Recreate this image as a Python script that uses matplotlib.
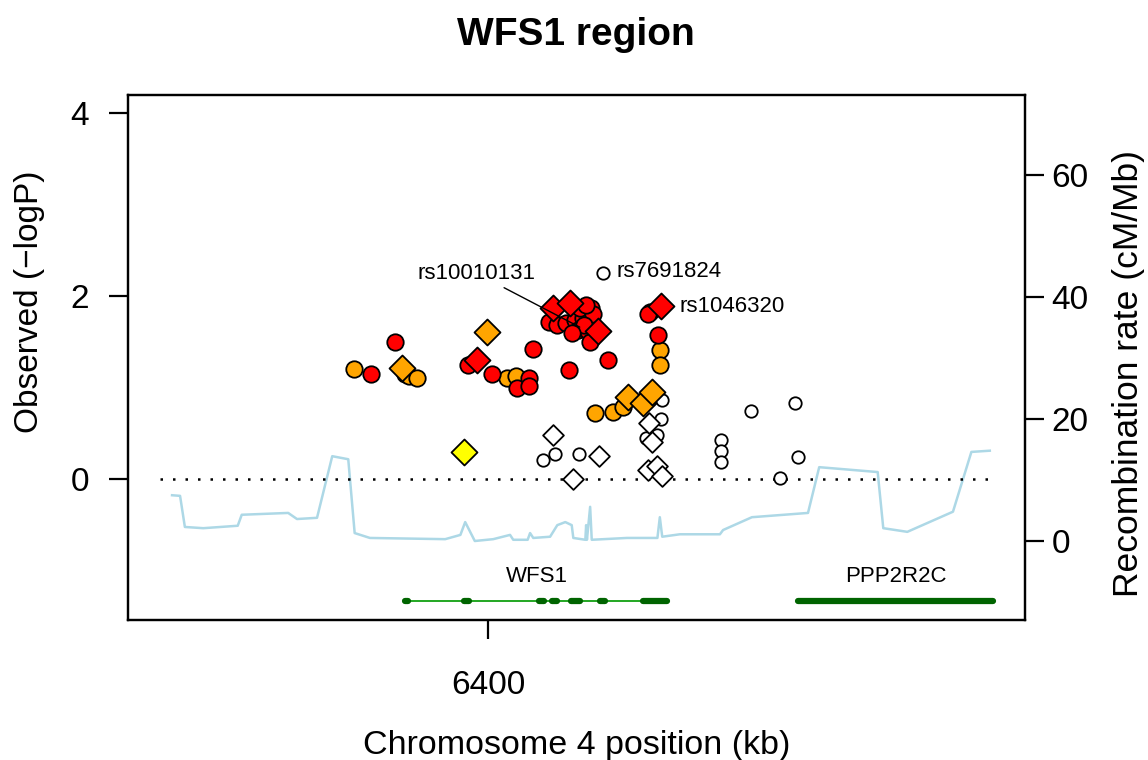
import matplotlib
matplotlib.use("Agg")
import matplotlib.pyplot as plt

plt.rcParams["font.family"] = ["Liberation Sans", "DejaVu Sans"]

# SNP results: position (kb), -log10 P, LD class, marker shape
snp_pos = [6383.2, 6385.3, 6388.3, 6389.2, 6389.6, 6390.1, 6391.1, 6397.0, 6397.5, 6398.6,
           6399.8, 6400.4, 6402.3, 6403.4, 6403.6, 6405.1, 6405.1, 6405.6, 6406.8, 6408.1,
           6408.3, 6410.1, 6410.6, 6411.3, 6413.8, 6414.3, 6414.9, 6413.3, 6415.6, 6416.8,
           6417.4, 6419.3, 6420.4, 6420.2, 6419.9, 6421.6, 6421.2, 6421.4, 6421.4, 6421.7,
           6420.1, 6421.6, 6419.7, 6421.1, 6420.4, 6419.9, 6421.1, 6421.7, 6429.0, 6429.0,
           6429.0, 6432.8, 6438.3, 6438.7, 6436.4, 6408.1, 6410.2, 6413.7, 6407.6, 6408.6,
           6409.7, 6410.8, 6411.8, 6411.4, 6412.8, 6413.1, 6411.2, 6412.4, 6412.7, 6411.9,
           6410.4, 6412.2]
snp_logp = [1.20, 1.15, 1.50, 1.21, 1.15, 1.13, 1.10, 0.30, 1.25, 1.30,
            1.61, 1.15, 1.10, 1.13, 0.99, 1.10, 1.02, 1.42, 0.21, 0.48,
            0.27, 1.19, 0.00, 0.27, 0.25, 2.25, 1.30, 0.72, 0.73, 0.79,
            0.90, 0.83, 0.95, 1.83, 1.80, 1.89, 1.57, 1.41, 1.25, 0.86,
            0.61, 0.66, 0.45, 0.48, 0.40, 0.10, 0.14, 0.03, 0.43, 0.31,
            0.19, 0.74, 0.83, 0.24, 0.01, 1.87, 1.92, 1.62, 1.72, 1.68,
            1.70, 1.74, 1.76, 1.87, 1.87, 1.80, 1.63, 1.62, 1.50, 1.68,
            1.60, 1.90]
snp_ld = ["orange", "red", "red", "orange", "orange", "orange", "orange", "yellow", "red", "red",
          "orange", "red", "orange", "orange", "red", "red", "red", "red", "white", "white",
          "white", "red", "white", "white", "white", "white", "red", "orange", "orange", "orange",
          "orange", "orange", "orange", "red", "red", "red", "red", "orange", "orange", "white",
          "white", "white", "white", "white", "white", "white", "white", "white", "white", "white",
          "white", "white", "white", "white", "white", "red", "red", "red", "red", "red",
          "red", "red", "red", "red", "red", "red", "red", "red", "red", "red",
          "red", "red"]
snp_shape = ["o", "o", "o", "D", "o", "o", "o", "D", "o", "D",
             "D", "o", "o", "o", "o", "o", "o", "o", "o", "D",
             "o", "o", "D", "o", "D", "o", "o", "o", "o", "o",
             "D", "D", "D", "o", "o", "D", "o", "o", "o", "o",
             "D", "o", "o", "o", "D", "D", "D", "D", "o", "o",
             "o", "o", "o", "o", "o", "D", "D", "D", "o", "o",
             "o", "o", "o", "o", "o", "o", "o", "o", "o", "o",
             "o", "o"]

# recombination rate (cM/Mb)
recomb_pos = [6360.5, 6361.5, 6362.1, 6364.4, 6368.7, 6369.2, 6375.0, 6376.1, 6378.6, 6380.5,
              6382.5, 6383.3, 6385.2, 6394.6, 6396.5, 6397.1, 6398.3, 6400.6, 6402.7, 6403.1,
              6404.9, 6405.2, 6405.6, 6407.7, 6408.6, 6409.6, 6410.4, 6410.6, 6412.1, 6412.2,
              6412.3, 6412.7, 6412.9, 6417.3, 6421.1, 6421.4, 6421.7, 6423.9, 6428.9, 6429.3,
              6432.9, 6439.9, 6441.3, 6448.6, 6449.3, 6452.3, 6458.0, 6460.3, 6462.6]
recomb_rate = [7.5, 7.4, 2.3, 2.1, 2.5, 4.3, 4.6, 3.6, 3.8, 13.9,
               13.4, 1.3, 0.5, 0.3, 1.0, 3.1, 0.0, 0.3, 1.0, 0.2,
               0.2, 1.3, 0.5, 0.7, 2.6, 3.1, 2.6, 0.5, 0.2, 2.6,
               0.2, 5.6, 0.2, 0.5, 0.5, 3.9, 0.7, 1.1, 1.1, 1.8,
               3.9, 4.6, 12.1, 11.3, 2.1, 1.5, 4.8, 14.6, 14.8]

# genes
gene_names = ["WFS1", "PPP2R2C"]
gene_start = [6389.8, 6438.7]
gene_end = [6422.4, 6463.0]
wfs1_exon_start = [6389.6, 6397.0, 6406.3, 6408.0, 6410.3, 6413.9, 6419.3]
wfs1_exon_end = [6390.0, 6397.6, 6406.9, 6408.6, 6411.4, 6414.5, 6422.3]

labels = {"rs10010131": (6411.4, 1.66), "rs7691824": (6414.3, 2.25), "rs1046320": (6421.6, 1.89)}

fill = {"red": "#ff0000", "orange": "#ffa500", "yellow": "#ffff00", "white": "white"}

fig = plt.figure(figsize=(11.48, 7.6), dpi=100)
ax = fig.add_axes([0.1115, 0.1842, 0.7814, 0.6908])
ax2 = ax.twinx()
ax.set_zorder(ax2.get_zorder() + 1)
ax.patch.set_visible(False)

ax.set_xlim(6355, 6467)
ax.set_ylim(-1.541, 4.197)
ax2.set_ylim(-12.95, 73.1)

ax2.plot(recomb_pos, recomb_rate, color="#add8e6", lw=1.8)

ax.plot([6359.0, 6462.6], [0, 0], color="black", lw=1.8, linestyle=(0, (1, 4)))

# draw white first, coloured on top
for group in ["white", "yellow", "orange", "red"]:
    for shape in ["o", "D"]:
        xs = [p for p, g, s in zip(snp_pos, snp_ld, snp_shape) if g == group and s == shape]
        ys = [v for v, g, s in zip(snp_logp, snp_ld, snp_shape) if g == group and s == shape]
        if not xs:
            continue
        if group == "white":
            size = 80 if shape == "o" else 112
        else:
            size = 140 if shape == "o" else 175
        ax.scatter(xs, ys, s=size, marker=shape, facecolor=fill[group],
                   edgecolor="black", linewidth=1.3, zorder=3)

# gene track
gene_y = -1.333
ax.plot([gene_start[0], gene_end[0]], [gene_y, gene_y], color="#11a011", lw=1.3, zorder=2)
for s, e in zip(wfs1_exon_start, wfs1_exon_end):
    ax.plot([s, e], [gene_y, gene_y], color="#006400", lw=4.5, solid_capstyle="round", zorder=2)
ax.plot([gene_start[1], gene_end[1]], [gene_y, gene_y], color="#006400", lw=4.5,
        solid_capstyle="round", zorder=2)
for name, s, e in zip(gene_names, gene_start, gene_end):
    ax.text((s + e) / 2, -1.07, name, ha="center", va="center", fontsize=16)

# SNP labels
ax.annotate("rs10010131", xy=labels["rs10010131"], xytext=(6391.1, 2.25),
            ha="left", va="center", fontsize=16,
            arrowprops=dict(arrowstyle="-", color="black", lw=1, shrinkA=2, shrinkB=0))
ax.annotate("rs7691824", xy=labels["rs7691824"], xytext=(10, 1), textcoords="offset points",
            ha="left", va="center", fontsize=16)
ax.annotate("rs1046320", xy=labels["rs1046320"], xytext=(13, 0), textcoords="offset points",
            ha="left", va="center", fontsize=16)

# axes styling
for a in (ax, ax2):
    for sp in a.spines.values():
        sp.set_linewidth(1.6)
ax.set_yticks([0, 2, 4])
ax.set_xticks([6400])
ax.set_xticklabels(["6400"])
ax.tick_params(axis="y", length=14, width=1.6, pad=14, labelsize=24)
ax.tick_params(axis="x", length=14, width=1.6, pad=22, labelsize=24)
ax2.set_yticks([0, 20, 40, 60])
ax2.tick_params(axis="y", length=14, width=1.6, pad=5, labelsize=24)

fig.text(0.502, 0.954, "WFS1 region", ha="center", va="center", fontsize=28, fontweight="bold")
fig.text(0.026, 0.603, "Observed (\u2212logP)", rotation=90, ha="center", va="center", fontsize=24)
fig.text(0.9826, 0.508, "Recombination rate (cM/Mb)", rotation=90, ha="center", va="center",
         fontsize=25.5)
fig.text(0.502, 0.0197, "Chromosome 4 position (kb)", ha="center", va="center", fontsize=24.5)

fig.savefig("out.png", dpi=100)
